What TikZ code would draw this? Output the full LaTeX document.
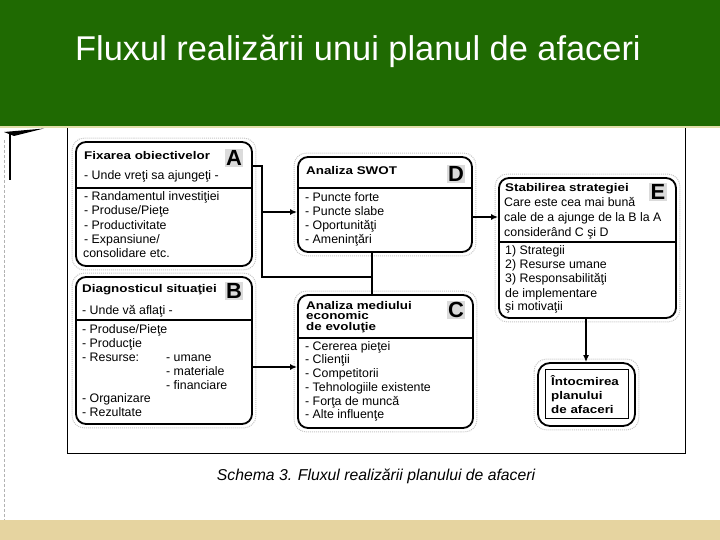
\documentclass[tikz,border=0pt]{standalone}
\usepackage{fontspec}
\setmainfont{Liberation Sans}
\newfontfamily\widesans[FakeStretch=1.2]{Liberation Sans}
\usetikzlibrary{arrows.meta,calc}
\definecolor{hdr}{RGB}{31,106,2}
\definecolor{barc}{RGB}{230,212,160}
\definecolor{paleline}{RGB}{226,222,170}
\begin{document}
\begin{tikzpicture}[x=1bp,y=-1bp,
 box/.style={draw,line width=1.8pt,rounded corners=10bp,inner sep=0pt},
 halo/.style={draw=gray!45,densely dotted,line width=1pt,rounded corners=12bp},
 txt/.style={anchor=base west,inner sep=0pt,font=\fontsize{12.4}{14}\selectfont},
 hd/.style={anchor=base west,inner sep=0pt,font=\widesans\fontsize{11.2}{11}\selectfont\bfseries},
 letter/.style={fill=gray!28,inner sep=1.5bp,font=\fontsize{22}{22}\selectfont\bfseries},
 conn/.style={line width=1.6pt},
 arr/.style={conn,-{Latex[length=7bp,width=6bp]}},
 div/.style={line width=1.2pt}
]
\useasboundingbox (0,0) rectangle (720,540);
% background bands
\fill[hdr] (0,0) rectangle (720,126);
\fill[paleline] (0,126) rectangle (720,128.5);
\fill[barc] (0,520) rectangle (720,540);
\node[text=white,font=\fontsize{34.5}{38}\selectfont] (title) at (358,51) {Fluxul realizării unui planul de afaceri};
% scan edge
\draw[gray!60,densely dashed,line width=0.6pt] (4,140) -- (4,520);
\fill (4,132) -- (44,128.5) -- (14,136) -- cycle;
\draw[line width=1.2pt] (10,133) -- (10,180);
% frame
\draw[line width=0.8pt] (67,128.5) -- (67,453) -- (685,453) -- (685,128.5);
\node[font=\fontsize{15.8}{18}\selectfont\itshape] (cap) at (376,476) {Schema 3. Fluxul realizării planului de afaceri};

% boxes
\node[box,minimum width=176bp,minimum height=124bp] (A) at (164,204) {};
\node[box,minimum width=176bp,minimum height=147bp] (B) at (164,350.5) {};
\node[box,minimum width=174bp,minimum height=95bp] (D) at (385,204.5) {};
\node[box,minimum width=175bp,minimum height=133bp] (C) at (385.5,361.5) {};
\node[box,minimum width=177bp,minimum height=140bp] (E) at (587.5,248) {};
\node[box,rounded corners=12bp,minimum width=97bp,minimum height=63bp] (F) at (586.5,394.5) {};
\node[draw,line width=0.6pt,minimum width=83bp,minimum height=49bp,inner sep=0pt] (Fi) at (586.5,393.5) {};
\foreach \b in {A,B,C,D,E,F}{
  \draw[halo] ($(\b.north west)+(-3,-3)$) rectangle ($(\b.south east)+(3,3)$);
}
% dividers
\draw[div] (A.west |- 0,188) -- (A.east |- 0,188);
\draw[div] (B.west |- 0,320) -- (B.east |- 0,320);
\draw[div] (D.west |- 0,188) -- (D.east |- 0,188);
\draw[div] (C.west |- 0,338) -- (C.east |- 0,338);
\draw[div] (E.west |- 0,242) -- (E.east |- 0,242);

% letters
\node[letter] (LA) at (234,158) {A};
\node[letter] (LB) at (234,291) {B};
\node[letter] (LD) at (456,174) {D};
\node[letter] (LC) at (456,310) {C};
\node[letter] (LE) at (658,192) {E};

% box A text
\node[hd] (A0) at (84,160) {Fixarea obiectivelor};
\node[txt] (A1) at (84,180) {- Unde vreţi sa ajungeţi -};
\node[txt] (A2) at (84,201) {- Randamentul investiţiei};
\node[txt] (A3) at (84,215) {- Produse/Pieţe};
\node[txt] (A4) at (84,230) {- Productivitate};
\node[txt] (A5) at (84,244) {- Expansiune/};
\node[txt] (A6) at (83,258) {consolidare etc.};
% box B text
\node[hd] (B0) at (82,292) {Diagnosticul situaţiei};
\node[txt] (B1) at (82,314) {- Unde vă aflaţi -};
\node[txt] (B2) at (82,333) {- Produse/Pieţe};
\node[txt] (B3) at (82,347) {- Producţie};
\node[txt] (B4) at (82,361) {- Resurse:};
\node[txt] (B5) at (166,361) {- umane};
\node[txt] (B6) at (166,375) {- materiale};
\node[txt] (B7) at (166,389) {- financiare};
\node[txt] (B8) at (82,402) {- Organizare};
\node[txt] (B9) at (82,416) {- Rezultate};
% box D text
\node[hd] (D0) at (306,175) {Analiza SWOT};
\node[txt] (D1) at (305,202) {- Puncte forte};
\node[txt] (D2) at (305,216) {- Puncte slabe};
\node[txt] (D3) at (305,230) {- Oportunităţi};
\node[txt] (D4) at (305,244) {- Ameninţări};
% box C text
\node[hd] (C0) at (306,309) {Analiza mediului};
\node[hd] (C1) at (306,319.5) {economic};
\node[hd] (C2) at (306,330) {de evoluţie};
\node[txt] (C3) at (305,350) {- Cererea pieţei};
\node[txt] (C4) at (305,363) {- Clienţii};
\node[txt] (C5) at (305,377) {- Competitorii};
\node[txt] (C6) at (305,391) {- Tehnologiile existente};
\node[txt] (C7) at (305,405) {- Forţa de muncă};
\node[txt] (C8) at (305,418) {- Alte influenţe};
% box E text
\node[hd] (E0) at (505,192) {Stabilirea strategiei};
\node[txt] (E1) at (504,207) {Care este cea mai bună};
\node[txt] (E2) at (504,222) {cale de a ajunge de la B la A};
\node[txt] (E3) at (504,237) {considerând C şi D};
\node[txt] (E4) at (505,255) {1) Strategii};
\node[txt] (E5) at (505,269) {2) Resurse umane};
\node[txt] (E6) at (505,283) {3) Responsabilităţi};
\node[txt] (E7) at (505,297) {de implementare};
\node[txt] (E8) at (505,310) {şi motivaţii};
% box F text
\node[hd] (F0) at (551,385) {Întocmirea};
\node[hd] (F1) at (551,399) {planului};
\node[hd] (F2) at (551,413) {de afaceri};

% connectors
\coordinate (jA) at (262,166);
\coordinate (jB) at (262,277);
\coordinate (jM) at (262,212);
\coordinate (xDC) at (372,0);
\coordinate (yBC) at (0,367);
\coordinate (yDE) at (0,217);
\coordinate (xEF) at (586,0);
\draw[conn] (A.east |- jA) -- (jA) -- (jB) -- (jB -| xDC);
\draw[conn] (D.south -| xDC) -- (C.north -| xDC);
\draw[arr] (jM) -- (D.west |- jM);
\draw[arr] (B.east |- yBC) -- (C.west |- yBC);
\draw[arr] (D.east |- yDE) -- (E.west |- yDE);
\draw[arr] (E.south -| xEF) -- (F.north -| xEF);
\end{tikzpicture}
\end{document}
